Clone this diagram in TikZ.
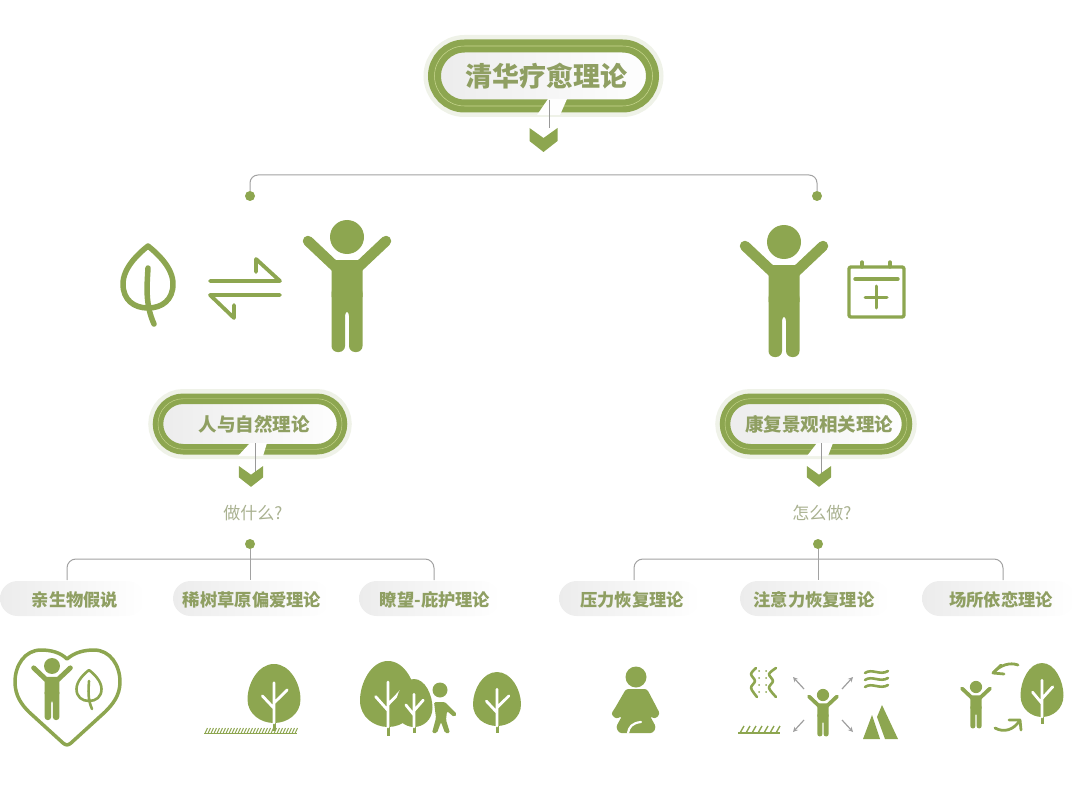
\documentclass[tikz,border=0pt]{standalone}
\usepackage{fontspec}
\setmainfont{Noto Sans CJK SC}
\usetikzlibrary{positioning,shapes.misc}
\definecolor{leafgreen}{HTML}{8DA650}
\definecolor{labelgreen}{HTML}{8F9F62}
\definecolor{askgreen}{HTML}{A9B190}
\definecolor{halo}{HTML}{EFF2E8}
\definecolor{ringlight}{HTML}{C9D890}
\definecolor{chipgray}{HTML}{ECECEC}
\definecolor{linkgray}{HTML}{A2A2A2}
\newcommand\rowy{598.5}
\newcommand\bary{559}
\newcommand\barend{580}
\tikzset{
  pillbox/.style={rounded rectangle, outer sep=0pt, inner sep=0pt, text=labelgreen,
    left color=chipgray, right color=white!97!chipgray,
    preaction={draw=halo, line width=#1pt+9pt},
    draw=leafgreen, line width=#1pt*0.48, double=ringlight, double distance=#1pt*0.04},
  pilltail/.style={fill=white!96!chipgray, draw=none},
  link/.style={draw=linkgray, line width=1pt},
  drop/.style={draw=gray!80, line width=1pt},
  dotmark/.style={circle, fill=leafgreen, minimum size=10pt, inner sep=0pt, outer sep=0pt},
  chip/.style={rounded rectangle, left color=chipgray, right color=white, anchor=west,
    minimum height=35pt, inner sep=0pt, outer sep=0pt},
  chiptext/.style={text=labelgreen, font=\fontsize{17.3}{18}\selectfont\bfseries, inner sep=0pt},
  asktext/.style={text=askgreen, font=\fontsize{17}{18}\selectfont, inner sep=0pt},
  iconline/.style={draw=leafgreen, line cap=round, line join=round, fill=none},
  smallarrow/.style={draw=gray!75, line width=1.2pt, -stealth},
}
\newcommand\personicon[3]{
  \begin{scope}[shift={(#1,#2)}, x=#3pt, y=-#3pt]
    \fill[leafgreen] (0,0) circle (17);
    \draw[leafgreen, line width=#3*10.5pt, line cap=round] (-39,4) -- (-4,37) (39,4) -- (4,37);
    \fill[leafgreen] (-15.5,60) -- (-15.5,33) -- (-11,23) -- (11,23) -- (15.5,33) -- (15.5,60) -- cycle;
    \fill[leafgreen, rounded corners=#3*6pt] (-15.5,50) -- (15.5,50) -- (15.5,115) -- (2,115)
      -- (2,73) -- (-2,73) -- (-2,115) -- (-15.5,115) -- cycle;
  \end{scope}
}
\newcommand\leaficon[4]{
  \begin{scope}[shift={(#1,#2)}, x=#3pt, y=-#3pt]
    \draw[iconline, line width=#4pt] (0,0) .. controls (10,8) and (25,22) .. (25,38)
      .. controls (25,54) and (14,62) .. (0,62) .. controls (-14,62) and (-25,54) .. (-25,38)
      .. controls (-25,22) and (-10,8) .. (0,0) -- cycle;
    \draw[iconline, line width=#4pt] (0,22) .. controls (-1,40) and (-3,58) .. (6,78);
  \end{scope}
}
\newcommand\treeicon[4]{
  \begin{scope}[shift={(#1,#2)}, x=#3pt, y=-#4pt]
    \draw[leafgreen, line width=3pt] (0,.95) -- (0,1.13);
    \fill[leafgreen] (0,0) .. controls (.3,0) and (.5,.33) .. (.5,.6) .. controls (.5,.85) and (.25,1) .. (0,1)
      .. controls (-.25,1) and (-.5,.85) .. (-.5,.6) .. controls (-.5,.33) and (-.3,0) .. (0,0) -- cycle;
    \draw[white, line width=2.8pt, line cap=round] (0,.32) -- (0,1) (0,.75) -- (-.22,.54) (0,.66) -- (.25,.44);
  \end{scope}
}
\newcommand\chevronicon[3]{
  \begin{scope}[shift={(#1,#2)}, x=#3pt, y=-#3pt]
    \fill[leafgreen] (-14,0) -- (0,10) -- (14,0) -- (14,13) -- (0,24) -- (-14,13) -- cycle;
  \end{scope}
}
\begin{document}
\begin{tikzpicture}[x=1pt, y=-1pt]
  \useasboundingbox (0,0) rectangle (1080,789);

  % top title
  \node [pillbox=13, minimum width=218pt, minimum height=60pt, font=\fontsize{27}{28}\selectfont\bfseries]
    (title) at (543.5,76) {\hspace*{5pt}清华疗愈理论};
  \fill [pilltail] (548,99) -- (537,115) -- (560,115) -- (567,99) -- cycle;
  \coordinate (titlefoot) at (549,100);
  \coordinate (titlechev) at (549,128);
  \draw [drop] (titlefoot) -- (titlechev);
  \chevronicon{543.5}{128}{1}

  % first split
  \node [dotmark] (dotA) at (250,196) {};
  \node [dotmark] (dotB) at (817,196) {};
  \coordinate (topmid) at (533,175);
  \draw [link, rounded corners=8pt] (dotA) |- (topmid) -| (dotB);

  % left head icons
  \leaficon{148}{246}{1}{5.5}
  \coordinate (upA) at (210,281);
  \coordinate (upB) at (280,281);
  \coordinate (dnA) at (210,295);
  \coordinate (dnB) at (280,295);
  \draw [iconline, line width=3.8pt] (upA) -- (upB) -- (256,259) -- (256,272);
  \draw [iconline, line width=3.8pt] (dnB) -- (dnA) -- (234,318) -- (234,305);
  \personicon{347}{237}{1}

  % right head icons
  \personicon{784}{242}{1}
  \draw [iconline, line width=3.4pt, rounded corners=2pt] (849,267) rectangle (904,317);
  \draw [iconline, line width=3.4pt] (862,262) -- (862,267) (890,262) -- (890,267);
  \draw [iconline, line width=3.4pt] (855,279) -- (898,279);
  \draw [iconline, line width=3pt] (865,297) -- (887,297) (876,286) -- (876,308);

  % second row titles
  \node [pillbox=10.5, minimum width=184pt, minimum height=50.5pt, font=\fontsize{18.5}{19}\selectfont\bfseries]
    (nature) at (250,424) {\hspace*{8pt}人与自然理论};
  \fill [pilltail] (250,443) -- (238,456) -- (263,456) -- (267,443) -- cycle;
  \coordinate (naturefoot) at (255,443);
  \coordinate (naturechev) at (255,473);
  \draw [drop] (naturefoot) -- (naturechev);
  \chevronicon{251}{466}{.87}
  \node [pillbox=10.5, minimum width=182pt, minimum height=50.5pt, font=\fontsize{18.5}{19}\selectfont\bfseries]
    (heal) at (816,424) {\hspace*{6pt}康复景观相关理论};
  \fill [pilltail] (817,443) -- (807,456) -- (828,456) -- (833,443) -- cycle;
  \coordinate (healfoot) at (821,443);
  \coordinate (healchev) at (821,473);
  \draw [drop] (healfoot) -- (healchev);
  \chevronicon{819}{466}{.87}

  \node [asktext] (askL) at (253,513) {做什么?};
  \node [asktext] (askR) at (822,513) {怎么做?};

  % left chips
  \node [chip, minimum width=145pt] (chA) at (0,\rowy) {};
  \node [chip, minimum width=157pt, right=28pt of chA] (chB) {};
  \node [chip, minimum width=141pt, right=29pt of chB] (chC) {};
  \node [chiptext] (txA) at (75,600) {亲生物假说};
  \node [chiptext] (txB) at (252,600) {稀树草原偏爱理论};
  \node [chiptext] (txC) at (435,600) {瞭望-庇护理论};
  % right chips
  \node [chip, minimum width=141pt, right=59pt of chC] (chD) {};
  \node [chip, minimum width=150pt, right=40pt of chD] (chE) {};
  \node [chip, minimum width=153pt, right=32pt of chE] (chF) {};
  \node [chiptext] (txD) at (632,600) {压力恢复理论};
  \node [chiptext] (txE) at (814,600) {注意力恢复理论};
  \node [chiptext] (txF) at (1001,600) {场所依恋理论};

  % brackets
  \node [dotmark] (dotL) at (250,544) {};
  \node [dotmark] (dotR) at (818,544) {};
  \coordinate (brA) at (67,\barend);
  \coordinate (brC) at (434,\barend);
  \coordinate (brB) at (250,\barend);
  \coordinate (brD) at (634,\barend);
  \coordinate (brF) at (1003,\barend);
  \coordinate (brE) at (818,\barend);
  \coordinate (midL) at (250,\bary);
  \coordinate (midR) at (818,\bary);
  \draw [link, rounded corners=9pt] (brA) |- (midL) -| (brC);
  \draw [link] (dotL) -- (brB);
  \draw [link, rounded corners=9pt] (brD) |- (midR) -| (brF);
  \draw [link] (dotR) -- (brE);

  % heart
  \draw [iconline, line width=3.5pt] (67,659) .. controls (75,652) and (85,650) .. (94,650)
    .. controls (110,650) and (120,665) .. (120,682) .. controls (120,696) and (112,705) .. (105,712)
    -- (71,743) .. controls (68,745.5) and (66,745.5) .. (63,743) -- (29,712)
    .. controls (22,705) and (15,696) .. (15,682) .. controls (15,665) and (25,650) .. (41,650)
    .. controls (50,650) and (60,652) .. (67,659) -- cycle;
  \personicon{52}{666}{.47}
  \leaficon{89}{670}{.5}{2.6}

  % savanna tree
  \treeicon{274}{664}{53}{59}
  \draw [leafgreen, line width=1.5pt] (204,733.5) -- (297,733.5);
  \foreach \i in {0,...,30} {
    \draw [leafgreen, line width=1pt] (205+3*\i,733.5) -- (207.5+3*\i,728);
  }

  % refuge group
  \treeicon{388}{661}{56}{66}
  \treeicon{414}{679}{37}{48}
  \treeicon{497}{672}{48}{54}
  \fill [leafgreen] (440,690) circle (7.5);
  \fill [leafgreen, rounded corners=1.5pt] (434,702) -- (445,702) -- (457,714) -- (454,717) -- (447,711)
    -- (446,720) -- (450,733) -- (445,733) -- (441,722) -- (437,733) -- (432,733) -- (436,718) -- cycle;

  % sitting figure
  \fill [leafgreen] (636,677) circle (10.5);
  \fill [leafgreen, rounded corners=2.5pt] (626,689) -- (647,689) -- (657,708) -- (660,714) -- (655,719)
    -- (650,716) -- (656,727) -- (653,733) -- (619,733) -- (616,727) -- (622,716) -- (616,719)
    -- (611,714) -- (615,708) -- cycle;
  \draw [white, line width=2.2pt, line cap=round] (628,733) .. controls (629,727) and (632,723) .. (641,722);

  % attention group
  \personicon{823}{695}{.36}
  \draw [smallarrow] (804,689) -- (793,677);
  \draw [smallarrow] (842,689) -- (853,677);
  \draw [smallarrow] (804,720) -- (793,732);
  \draw [smallarrow] (842,720) -- (853,732);
  \draw [iconline, line width=2.6pt] plot [smooth] coordinates {(756,668) (751,674) (755,681) (751,688) (757,697)};
  \draw [iconline, line width=2.6pt] plot [smooth] coordinates {(776,668) (769,674) (773,681) (769,688) (776,697)};
  \foreach \y in {671,678,685,692} {
    \fill [leafgreen] (759,\y) circle (1);
    \fill [leafgreen] (766,\y) circle (1);
  }
  \foreach \y in {671,678,685} {
    \draw [iconline, line width=2.6pt] (865,\y+2) .. controls (872,\y-3) and (880,\y+5) .. (888,\y);
  }
  \draw [leafgreen, line width=1.5pt] (738,733) -- (780,733);
  \foreach \i in {0,...,6} {
    \draw [leafgreen, line width=1.4pt] (740+6*\i,733) -- (744+6*\i,726);
  }
  \fill [leafgreen] (872,715) -- (880,739) -- (863,739) -- cycle;
  \fill [leafgreen] (882,705) -- (898,739) -- (885,739) -- (877,717) -- cycle;

  % place group
  \personicon{976}{687}{.36}
  \treeicon{1042}{663}{43}{54}
  \draw [iconline, line width=2.8pt] (1018,665) .. controls (1010,662) and (1000,665) .. (993,673);
  \draw [iconline, line width=2.8pt] (1001,665) -- (993,673) -- (1004,674);
  \draw [iconline, line width=2.8pt] (995,728) .. controls (1004,733) and (1014,730) .. (1020,720);
  \draw [iconline, line width=2.8pt] (1009,720) -- (1020,720) -- (1021,730);
\end{tikzpicture}
\end{document}
